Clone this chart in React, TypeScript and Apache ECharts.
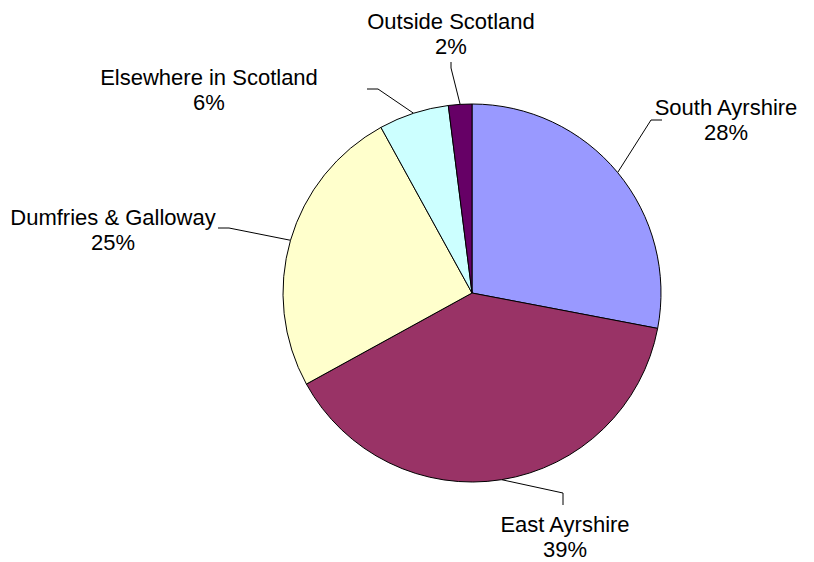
import React, { useEffect, useRef } from "react";
import * as echarts from "echarts";

const categories = ["South Ayrshire", "East Ayrshire", "Dumfries & Galloway", "Elsewhere in Scotland", "Outside Scotland"];
const shares = [28, 39, 25, 6, 2];
const colors = ["#9999FF", "#993366", "#FFFFCC", "#CCFFFF", "#660066"];
// label centres (px) for the layout
const labelPos: [number, number][] = [
  [726, 120],
  [565, 537],
  [113, 230],
  [209, 90],
  [451, 34],
];
// label-line elbow and end (px)
const leaderBends: [number, number][][] = [
  [[651, 120], [662, 120]],
  [[563, 493], [563, 505]],
  [[229, 228], [218, 228]],
  [[378, 89], [367, 89]],
  [[451, 68], [451, 62]],
];

export default function App() {
  const ref = useRef<HTMLDivElement>(null);
  useEffect(() => {
    document.body.style.margin = "0";
    const chart = echarts.init(ref.current!, null, { renderer: "svg" });
    chart.setOption({
      animation: false,
      backgroundColor: "#ffffff",
      series: [
        {
          type: "pie",
          center: [472, 293],
          radius: 189,
          startAngle: 90,
          clockwise: true,
          avoidLabelOverlap: false,
          data: categories.map((c, i) => ({ name: c, value: shares[i], itemStyle: { color: colors[i] } })),
          itemStyle: { borderColor: "#000000", borderWidth: 1 },
          label: {
            show: true,
            position: "outside",
            formatter: (p: any) => `${p.name}\n${Math.round(p.percent)}%`,
            fontFamily: "Liberation Sans, Arial, sans-serif",
            fontSize: 22,
            lineHeight: 25,
            color: "#000000",
            align: "center",
          },
          labelLine: { show: true, length: 20, length2: 10, lineStyle: { color: "#000000", width: 1 } },
          labelLayout: (params: any) => {
            const i = params.dataIndex;
            const p = labelPos[i];
            const start = params.labelLinePoints ? params.labelLinePoints[0] : null;
            const out: any = { x: p[0], y: p[1], align: "center", verticalAlign: "middle" };
            if (start) out.labelLinePoints = [start, leaderBends[i][0], leaderBends[i][1]];
            return out;
          },
          emphasis: { disabled: true },
        },
      ],
    });
    return () => chart.dispose();
  }, []);
  return <div ref={ref} style={{ position: "absolute", left: 0, top: 0, width: 814, height: 562 }} />;
}
